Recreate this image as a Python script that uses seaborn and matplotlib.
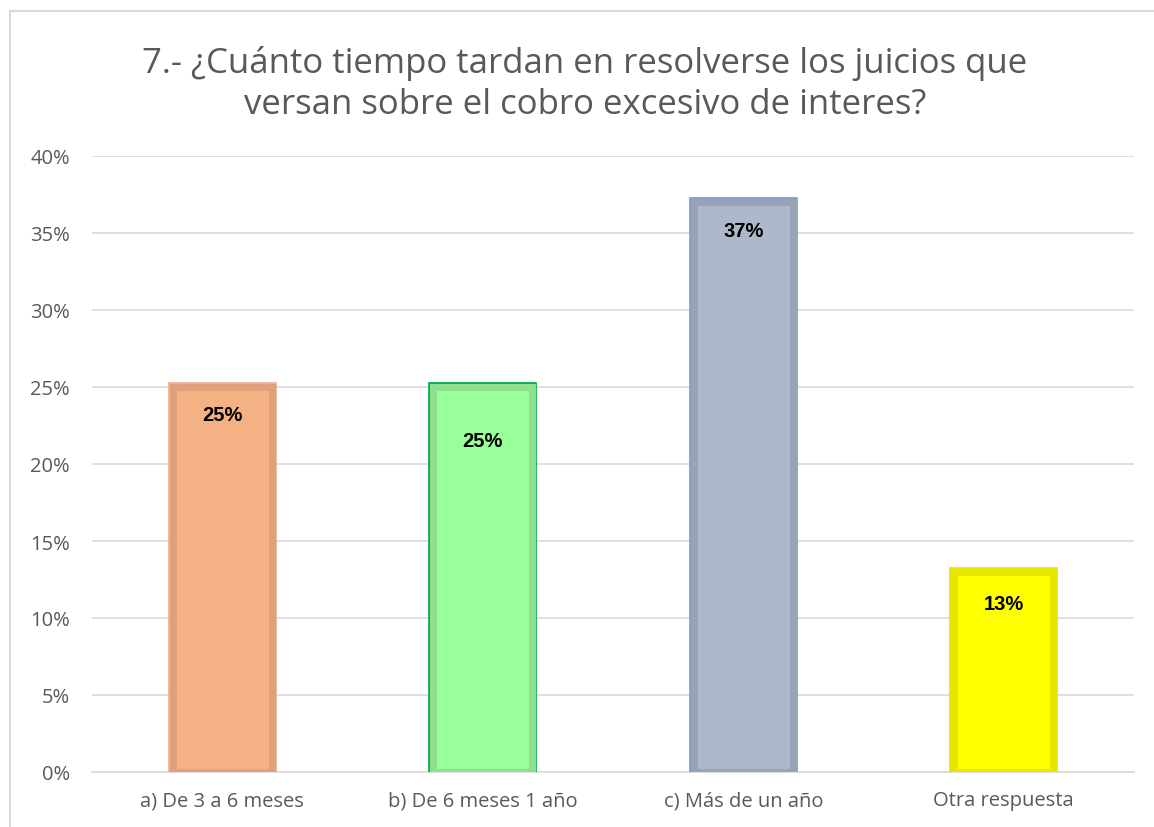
import matplotlib
matplotlib.use("Agg")

import matplotlib.pyplot as plt
import pandas as pd
import seaborn as sns
from matplotlib.patches import Rectangle
from matplotlib.ticker import MultipleLocator, PercentFormatter


TITLE = "7.- ¿Cuánto tiempo tardan en resolverse los juicios que\nversan sobre el cobro excesivo de interes?"
categories = ["a) De 3 a 6 meses", "b) De 6 meses 1 año", "c) Más de un año", "Otra respuesta"]
values = [25, 25, 37, 13]
labels = ["25%", "25%", "37%", "13%"]

face_colors = ["#F4B183", "#99FF99", "#ADB9CA", "#FFFF00"]
inner_edges = ["#DFA07A", "#8EE08E", "#98A4B5", "#E6E600"]
outer_edges = ["#E8B496", "#00B050", "#7F9BD0", "#E6E600"]
label_offsets = [-28, -54, -28, -32]

df = pd.DataFrame({"category": categories, "value": values})

sns.set_theme(style="white")
plt.rcParams["font.family"] = ["Open Sans", "DejaVu Sans"]

fig = plt.figure(figsize=(11.54, 8.28), dpi=100)
fig.patches.append(Rectangle((10 / 1154, -0.01), 1.1, 1 - 12 / 828 + 0.01,
                             transform=fig.transFigure, fill=False,
                             edgecolor="#D9D9D9", linewidth=1.5))
ax = fig.add_axes([92 / 1154, 55 / 828, 1042 / 1154, 616 / 828])

sns.barplot(data=df, x="category", y="value", hue="category", palette=face_colors,
            width=0.38, legend=False, ax=ax, saturation=1)
for bar, ie, oe in zip(ax.patches, inner_edges, outer_edges):
    x, w, h = bar.get_x(), bar.get_width(), bar.get_height()
    # outer thin ring drawn under the thick inner edge
    ax.add_patch(Rectangle((x, 0), w, h, fill=False, edgecolor=oe, linewidth=7,
                           joinstyle="miter", zorder=bar.get_zorder() - 0.1))
    bar.set_edgecolor(ie)
    bar.set_linewidth(5)
    bar.set_joinstyle("miter")

for i, (v, lab, off) in enumerate(zip(values, labels, label_offsets)):
    ax.annotate(lab, (i, v), xytext=(0, off), textcoords="offset pixels",
                ha="center", va="center", fontsize=14.5, fontweight="bold",
                color="black", family=["Liberation Sans", "DejaVu Sans"])

ax.set_xlim(-0.5, 3.5)
ax.set_ylim(0, 40)
ax.yaxis.set_major_locator(MultipleLocator(5))
ax.yaxis.set_major_formatter(PercentFormatter(decimals=0))
ax.grid(axis="y", color="#D9D9D9", linewidth=1.2)
ax.set_axisbelow(True)
for s in ["top", "right", "left"]:
    ax.spines[s].set_visible(False)
ax.spines["bottom"].set_color("#D9D9D9")
ax.spines["bottom"].set_linewidth(1.2)
ax.spines["bottom"].set_zorder(0.5)
ax.tick_params(axis="both", length=0, labelsize=14.5, labelcolor="#595959")
ax.tick_params(axis="y", pad=16)
ax.tick_params(axis="x", pad=13)
ax.set_xlabel("")
ax.set_ylabel("")

fig.text(585 / 1154, 1 - 84 / 828, TITLE, ha="center", va="center",
         fontsize=25, color="#595959", linespacing=1.3)

fig.savefig("out.png", dpi=100)
